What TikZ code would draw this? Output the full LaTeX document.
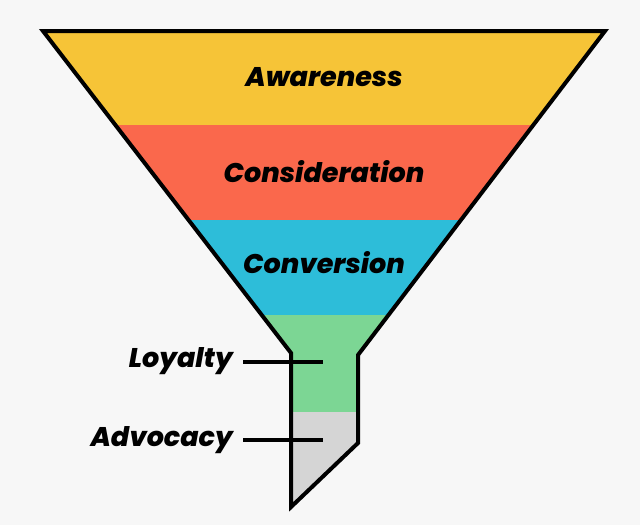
\documentclass[tikz,border=0pt]{standalone}
\usepackage{fontspec}
\setmainfont{Poppins}[BoldItalicFont={Poppins ExtraBold Italic}]
\definecolor{bgc}{HTML}{F7F7F7}
\definecolor{yel}{HTML}{F6C437}
\definecolor{redc}{HTML}{FA684C}
\definecolor{cya}{HTML}{2DBDD9}
\definecolor{grn}{HTML}{7CD694}
\definecolor{gry}{HTML}{D5D5D5}
\tikzset{
  lbl/.style={font=\fontsize{27}{31}\selectfont\bfseries\itshape, text=black, inner sep=0pt},
  outl/.style={line width=4pt, line join=miter},
  leader/.style={line width=3.4pt}
}
\begin{document}
\begin{tikzpicture}[x=1pt,y=-1pt]
\fill[bgc] (0,0) rectangle (640,525);
\useasboundingbox (0,0) rectangle (640,525);
\begin{scope}
\clip (43,31) -- (605,31) -- (358,355) -- (358,443) -- (291,507) -- (291,353) -- cycle;
\fill[yel] (0,0) rectangle (640,125);
\fill[redc] (0,125) rectangle (640,220);
\fill[cya] (0,220) rectangle (640,315);
\fill[grn] (0,315) rectangle (640,412);
\fill[gry] (0,412) rectangle (640,525);
\end{scope}
\draw[outl] (43,31) -- (605,31) -- (358,355) -- (358,443) -- (291,507) -- (291,353) -- cycle;
\node[lbl] (aw) at (324,77) {Awareness};
\node[lbl] (co) at (324,172) {Consideration};
\node[lbl] (cv) at (324,263) {Conversion};
\node[lbl, anchor=east] (lo) at (233,361) {Loyalty};
\node[lbl, anchor=east] (ad) at (233,440) {Advocacy};
\coordinate (loe) at (323,362);
\coordinate (ade) at (323,440);
\draw[leader] (243,362) -- (loe);
\draw[leader] (243,440) -- (ade);
\end{tikzpicture}
\end{document}
